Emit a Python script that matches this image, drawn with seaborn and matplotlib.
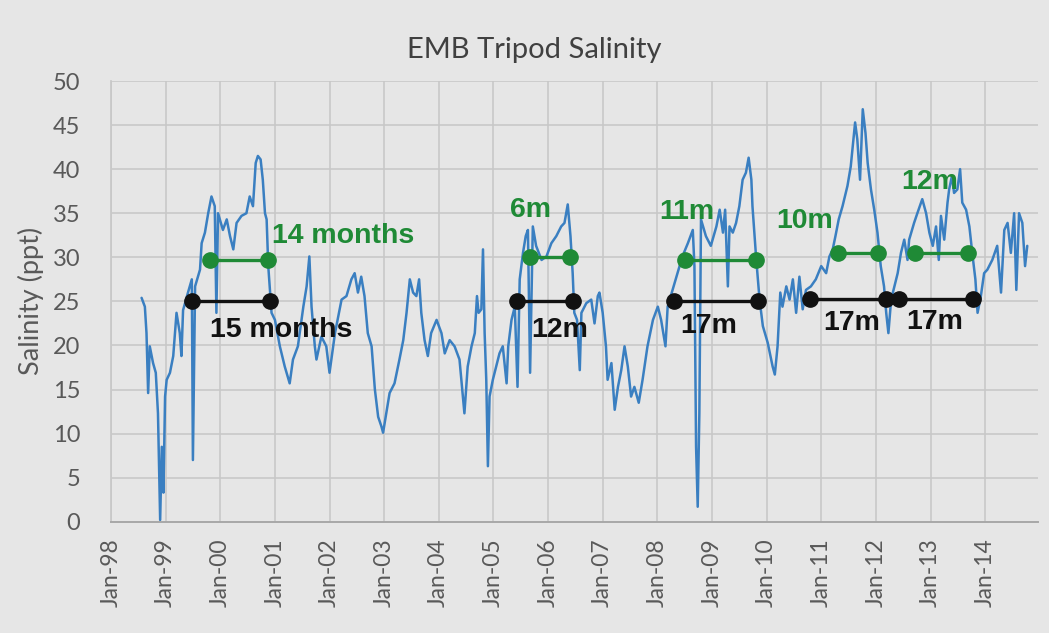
import pandas as pd
import numpy as np
import seaborn as sns
import matplotlib.pyplot as plt
import matplotlib.dates as mdates

# ---- salinity record (decimal year, ppt) ----
years = [
    1998.56, 1998.62, 1998.65, 1998.68, 1998.71, 1998.77, 1998.82, 1998.86, 1998.90, 1998.93,
    1998.96, 1998.99, 1999.02, 1999.08, 1999.14, 1999.20, 1999.26, 1999.29, 1999.32, 1999.41,
    1999.48, 1999.50, 1999.54, 1999.63, 1999.66, 1999.72, 1999.78, 1999.84, 1999.90, 1999.93,
    1999.96, 2000.05, 2000.12, 2000.18, 2000.24, 2000.30, 2000.39, 2000.48, 2000.54, 2000.60,
    2000.65, 2000.69, 2000.74, 2000.78, 2000.82, 2000.85, 2000.88, 2000.94, 2001.00, 2001.09,
    2001.18, 2001.27, 2001.33, 2001.42, 2001.52, 2001.58, 2001.63, 2001.67, 2001.73, 2001.76,
    2001.85, 2001.94, 2002.00, 2002.10, 2002.22, 2002.31, 2002.40, 2002.46, 2002.52, 2002.58,
    2002.64, 2002.70, 2002.77, 2002.83, 2002.89, 2002.95, 2002.98, 2003.04, 2003.10, 2003.19,
    2003.28, 2003.35, 2003.41, 2003.47, 2003.53, 2003.59, 2003.64, 2003.68, 2003.74, 2003.80,
    2003.86, 2003.96, 2004.05, 2004.11, 2004.20, 2004.29, 2004.38, 2004.47, 2004.53, 2004.60,
    2004.66, 2004.70, 2004.73, 2004.78, 2004.81, 2004.84, 2004.87, 2004.90, 2004.93, 2004.99,
    2005.05, 2005.11, 2005.17, 2005.24, 2005.27, 2005.33, 2005.39, 2005.44, 2005.48, 2005.54,
    2005.59, 2005.63, 2005.67, 2005.72, 2005.78, 2005.88, 2005.97, 2006.06, 2006.15, 2006.24,
    2006.30, 2006.36, 2006.41, 2006.45, 2006.48, 2006.53, 2006.58, 2006.61, 2006.70, 2006.79,
    2006.85, 2006.91, 2006.94, 2007.00, 2007.06, 2007.09, 2007.16, 2007.22, 2007.28, 2007.34,
    2007.40, 2007.46, 2007.52, 2007.58, 2007.66, 2007.73, 2007.82, 2007.92, 2008.01, 2008.07,
    2008.15, 2008.19, 2008.28, 2008.37, 2008.46, 2008.56, 2008.65, 2008.68, 2008.71, 2008.74,
    2008.77, 2008.80, 2008.89, 2008.98, 2009.08, 2009.14, 2009.20, 2009.24, 2009.29, 2009.32,
    2009.38, 2009.44, 2009.50, 2009.56, 2009.62, 2009.67, 2009.72, 2009.74, 2009.81, 2009.87,
    2009.93, 2010.02, 2010.11, 2010.15, 2010.20, 2010.25, 2010.29, 2010.36, 2010.42, 2010.48,
    2010.54, 2010.60, 2010.66, 2010.72, 2010.81, 2010.90, 2011.00, 2011.09, 2011.15, 2011.21,
    2011.26, 2011.32, 2011.39, 2011.48, 2011.54, 2011.62, 2011.66, 2011.71, 2011.76, 2011.81,
    2011.85, 2011.91, 2011.97, 2012.03, 2012.09, 2012.15, 2012.19, 2012.23, 2012.28, 2012.34,
    2012.40, 2012.46, 2012.52, 2012.58, 2012.61, 2012.70, 2012.76, 2012.85, 2012.92, 2012.98,
    2013.04, 2013.10, 2013.15, 2013.19, 2013.25, 2013.31, 2013.34, 2013.39, 2013.43, 2013.49,
    2013.54, 2013.58, 2013.65, 2013.71, 2013.77, 2013.82, 2013.86, 2013.92, 2013.98, 2014.04,
    2014.13, 2014.22, 2014.29, 2014.35, 2014.41, 2014.47, 2014.53, 2014.57, 2014.62, 2014.68,
    2014.73, 2014.77,
]
salinity = [
    25.4, 24.4, 21.4, 14.6, 19.9, 18.0, 16.9, 12.3, 0.2, 8.5,
    3.3, 14.2, 16.1, 16.9, 18.8, 23.7, 21.4, 18.8, 24.0, 26.0,
    27.5, 7.0, 26.7, 28.6, 31.6, 32.8, 35.0, 36.9, 35.8, 23.7,
    35.0, 33.1, 34.3, 32.4, 30.9, 33.9, 34.7, 35.0, 36.9, 35.8,
    40.7, 41.5, 41.1, 38.8, 35.0, 34.3, 29.0, 23.7, 22.9, 19.9,
    17.6, 15.7, 18.4, 19.9, 24.4, 26.7, 30.1, 24.4, 19.9, 18.4,
    21.0, 19.9, 16.9, 21.4, 25.2, 25.6, 27.5, 28.2, 26.0, 27.8,
    25.6, 21.4, 19.9, 15.0, 11.9, 10.8, 10.1, 12.3, 14.6, 15.7,
    18.4, 20.6, 23.7, 27.5, 26.0, 25.6, 27.5, 23.7, 20.6, 18.8,
    21.4, 22.9, 21.4, 19.1, 20.6, 19.9, 18.4, 12.3, 17.6, 19.9,
    21.4, 25.6, 23.7, 24.1, 30.9, 21.4, 16.1, 6.3, 14.2, 16.1,
    17.6, 19.1, 19.9, 15.7, 19.9, 22.9, 24.4, 15.3, 27.5, 30.5,
    32.4, 33.1, 16.9, 33.5, 31.3, 29.7, 30.1, 31.6, 32.4, 33.5,
    33.9, 36.0, 32.4, 28.2, 23.7, 22.9, 17.2, 23.7, 24.8, 25.2,
    22.5, 25.6, 26.0, 23.7, 19.9, 16.1, 18.0, 12.7, 15.3, 17.2,
    19.9, 17.6, 14.2, 15.3, 13.5, 16.1, 19.9, 22.9, 24.4, 22.9,
    19.9, 24.4, 26.3, 28.2, 30.1, 31.6, 33.1, 29.0, 8.5, 1.7,
    12.3, 34.3, 32.4, 31.3, 33.5, 35.4, 32.8, 35.4, 26.7, 33.5,
    32.8, 33.9, 35.8, 38.8, 39.6, 41.3, 38.8, 35.8, 29.7, 25.2,
    22.2, 20.3, 17.6, 16.7, 19.9, 26.0, 24.4, 26.7, 25.2, 27.5,
    23.7, 27.8, 24.1, 26.3, 26.7, 27.5, 29.0, 28.2, 30.1, 30.9,
    32.4, 34.3, 35.8, 38.1, 40.3, 45.3, 43.4, 38.8, 46.8, 44.1,
    40.7, 37.7, 35.4, 32.8, 29.0, 26.7, 23.7, 21.4, 25.2, 26.7,
    28.2, 30.5, 32.0, 29.7, 32.0, 33.9, 35.0, 36.6, 35.0, 32.8,
    31.3, 33.5, 29.7, 34.7, 32.0, 36.2, 37.7, 39.2, 37.3, 37.7,
    40.0, 36.2, 35.4, 33.5, 30.1, 27.5, 23.7, 25.6, 28.2, 28.6,
    29.7, 31.3, 26.0, 33.1, 33.9, 30.5, 35.0, 26.3, 35.0, 33.9,
    29.0, 31.3,
]

# ---- duration bars drawn on the chart ----
green_start = [1999.81, 2005.67, 2008.50, 2011.30, 2012.71]
green_end = [2000.88, 2006.41, 2009.81, 2012.04, 2013.69]
green_level = [29.7, 30.0, 29.7, 30.5, 30.5]
green_labels = ["14 months", "6m", "11m", "10m", "12m"]
green_label_x = [2000.94, 2005.68, 2008.54, 2010.70, 2012.98]
green_label_y = [32.4, 35.4, 35.1, 34.1, 38.5]

black_start = [1999.48, 2005.43, 2008.31, 2010.79, 2012.43]
black_end = [2000.92, 2006.45, 2009.85, 2012.18, 2013.77]
black_level = [25.0, 25.0, 25.0, 25.25, 25.25]
black_labels = ["15 months", "12m", "17m", "17m", "17m"]
black_label_x = [2001.12, 2006.22, 2008.94, 2011.56, 2013.08]
black_label_y = [21.8, 21.8, 22.2, 22.5, 22.7]


def to_date(y):
    y = np.asarray(y, dtype=float)
    base = pd.to_datetime(np.floor(y).astype(int).astype(str) + "-01-01")
    return base + pd.to_timedelta((y % 1) * 365.25, unit="D")


df = pd.DataFrame({"date": to_date(years), "salinity": salinity})

# ---- style ----
bg = "#e6e6e6"
sns.set_theme(style="whitegrid", rc={
    "figure.facecolor": bg,
    "axes.facecolor": bg,
    "grid.color": "#c8c8c8",
    "grid.linewidth": 1.2,
    "axes.edgecolor": "#a8a8a8",
})
plt.rcParams["font.family"] = ["Lato", "DejaVu Sans"]

fig = plt.figure(figsize=(10.49, 6.33), dpi=100)
ax = fig.add_axes([0.1058, 0.1758, 0.8837, 0.6962])

sns.lineplot(data=df, x="date", y="salinity", ax=ax, color="#3a7fc1", linewidth=1.8)

green = "#1f8a36"
for s, e, lv in zip(green_start, green_end, green_level):
    ax.plot(to_date([s, e]), [lv, lv], color=green, lw=2.4, marker="o", ms=11, zorder=5)
for s, e, lv in zip(black_start, black_end, black_level):
    ax.plot(to_date([s, e]), [lv, lv], color="#111111", lw=2.4, marker="o", ms=11, zorder=5)

for i, t in enumerate(green_labels):
    ha = "left" if i == 0 else "center"
    ax.text(to_date([green_label_x[i]])[0], green_label_y[i], t, color=green,
            fontsize=20.5, fontweight="bold", ha=ha, va="center",
            family=["Liberation Sans", "DejaVu Sans"], zorder=6)
for i, t in enumerate(black_labels):
    ax.text(to_date([black_label_x[i]])[0], black_label_y[i], t, color="#111111",
            fontsize=20.5, fontweight="bold", ha="center", va="center",
            family=["Liberation Sans", "DejaVu Sans"], zorder=6)

# ---- axes ----
ax.set_ylim(0, 50)
ax.set_yticks(range(0, 51, 5))
ax.set_xlim(pd.Timestamp("1998-01-01"), pd.Timestamp("2014-12-20"))
ax.xaxis.set_major_locator(mdates.YearLocator())
ax.xaxis.set_major_formatter(mdates.DateFormatter("%b-%y"))
ax.tick_params(axis="x", labelrotation=90, labelsize=16.5, colors="#595959", pad=12, length=0)
ax.tick_params(axis="y", labelsize=17, colors="#595959", pad=22, length=0)
ax.set_xlabel("")
ax.set_ylabel("Salinity (ppt)", fontsize=19.5, color="#595959", labelpad=6)
fig.text(534 / 1049, 1 - 50 / 633, "EMB Tripod Salinity", fontsize=21, color="#404040",
         ha="center", va="center")

for side in ["top", "right"]:
    ax.spines[side].set_visible(False)
ax.spines["left"].set_color("#c8c8c8")
ax.spines["bottom"].set_color("#a8a8a8")
ax.spines["bottom"].set_linewidth(1.4)

fig.savefig("out.png", dpi=100, facecolor=bg)
